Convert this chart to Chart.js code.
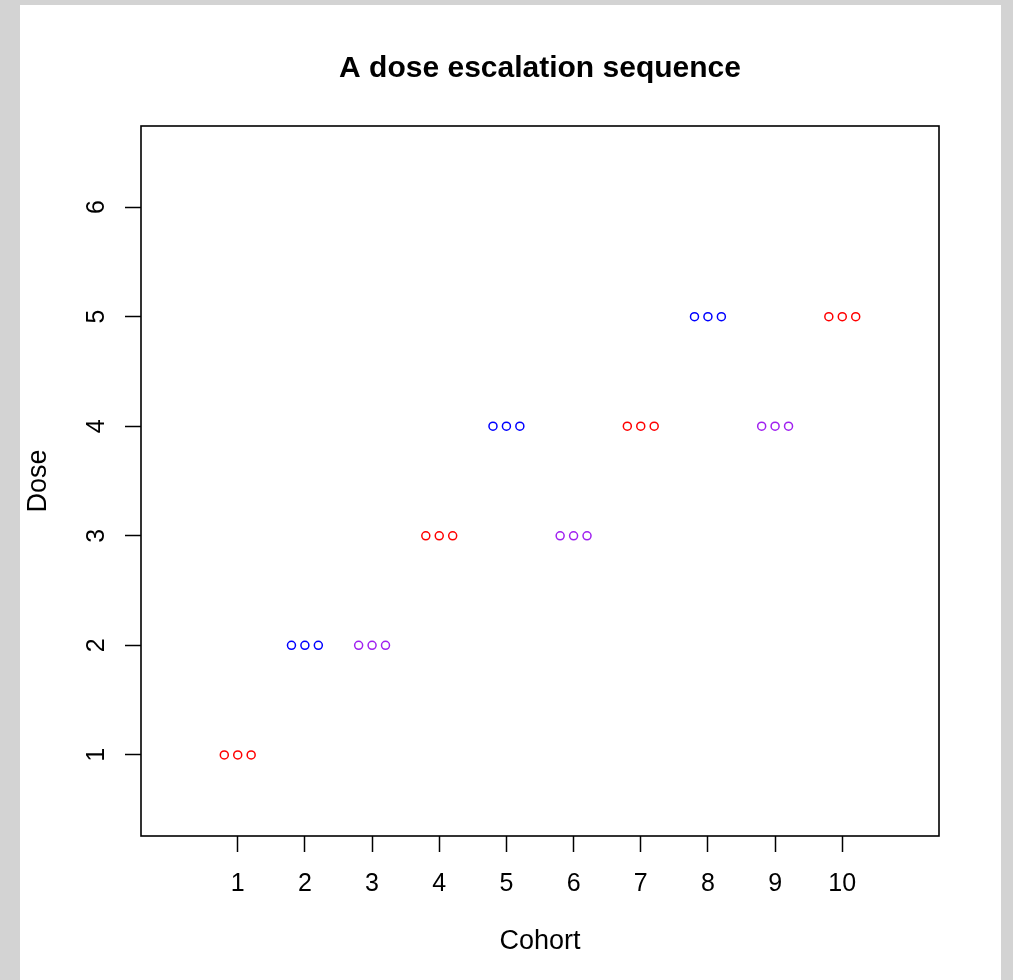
<!DOCTYPE html>
<html>
<head>
<meta charset="utf-8">
<title>A dose escalation sequence</title>
<script src="https://cdn.jsdelivr.net/npm/chart.js@4/dist/chart.umd.min.js"></script>
<style>
    html, body {
        margin: 0;
        padding: 0;
        background: #d3d3d3;
    }
    #wrap {
        position: absolute;
        left: 20px;
        top: 5px;
        width: 981px;
        height: 975px;
        background: #ffffff;
    }
</style>
</head>
<body>
<div id="wrap">
    <canvas id="doseChart" width="981" height="975"></canvas>
</div>
<script>
    // Data
    var cohorts = [1, 2, 3, 4, 5, 6, 7, 8, 9, 10];
    var cohortDose = [1, 2, 2, 3, 4, 3, 4, 5, 4, 5];
    var patientOffsets = [-0.2, 0, 0.2]; // three patients per cohort
    var xTicks = [1, 2, 3, 4, 5, 6, 7, 8, 9, 10];
    var yTicks = [1, 2, 3, 4, 5, 6];
    var xLimits = [-0.44, 11.44];
    var yLimits = [0.26, 6.74];

    var cohortColors = ['#FF0000', '#0000FF', '#A020F0'];
    var fontFamily = '"Liberation Sans", Arial, Helvetica, sans-serif';

    var points = [];
    var pointColors = [];
    for (var i = 0; i < cohorts.length; i++) {
        for (var j = 0; j < patientOffsets.length; j++) {
            points.push({ x: cohorts[i] + patientOffsets[j], y: cohortDose[i] });
            pointColors.push(cohortColors[i % cohortColors.length]);
        }
    }

    function setTicks(values) {
        return function (scale) {
            scale.ticks = values.map(function (v) { return { value: v }; });
        };
    }

    // box round the plot region, like R's box()
    var plotBox = {
        id: 'plotBox',
        afterLayout: function (chart) {
            // centre the title over the plot region, not the whole canvas
            if (chart.titleBlock) {
                chart.titleBlock.left = chart.chartArea.left;
                chart.titleBlock.right = chart.chartArea.right;
                chart.titleBlock.width = chart.chartArea.right - chart.chartArea.left;
            }
        },
        afterDatasetsDraw: function (chart) {
            var a = chart.chartArea;
            var ctx = chart.ctx;
            ctx.save();
            ctx.strokeStyle = '#000';
            ctx.lineWidth = 1.6;
            ctx.strokeRect(a.left, a.top, a.right - a.left, a.bottom - a.top);
            ctx.restore();
        }
    };

    var ctx = document.getElementById('doseChart');
    var doseChart = new Chart(ctx, {
        type: 'scatter',
        data: {
            datasets: [{
                label: 'Dose',
                data: points,
                pointStyle: 'circle',
                pointRadius: 4,
                pointHoverRadius: 4,
                pointBorderWidth: 1.5,
                pointBorderColor: pointColors,
                pointBackgroundColor: 'rgba(0,0,0,0)'
            }]
        },
        options: {
            responsive: false,
            animation: false,
            layout: {
                padding: { left: 0, right: 62, top: 0, bottom: 0 }
            },
            plugins: {
                legend: { display: false },
                tooltip: { enabled: false },
                title: {
                    display: true,
                    text: 'A dose escalation sequence',
                    color: '#000',
                    font: { family: fontFamily, size: 30, weight: 'bold' },
                    padding: { top: 46, bottom: 39 }
                }
            },
            scales: {
                x: {
                    type: 'linear',
                    min: xLimits[0],
                    max: xLimits[1],
                    afterBuildTicks: setTicks(xTicks),
                    afterFit: function (scale) { scale.height = 144; },
                    border: { display: false },
                    grid: {
                        drawOnChartArea: false,
                        tickLength: 16,
                        tickColor: '#000',
                        tickWidth: 1.5
                    },
                    ticks: {
                        color: '#000',
                        padding: 17,
                        font: { family: fontFamily, size: 25 },
                        maxRotation: 0,
                        autoSkip: false
                    },
                    title: {
                        display: true,
                        text: 'Cohort',
                        color: '#000',
                        font: { family: fontFamily, size: 27 },
                        padding: { top: 0, bottom: 22 }
                    }
                },
                y: {
                    type: 'linear',
                    min: yLimits[0],
                    max: yLimits[1],
                    afterBuildTicks: setTicks(yTicks),
                    afterFit: function (scale) { scale.width = 121; },
                    border: { display: false },
                    grid: {
                        drawOnChartArea: false,
                        tickLength: 16,
                        tickColor: '#000',
                        tickWidth: 1.5
                    },
                    ticks: {
                        color: '#000',
                        padding: 21,
                        minRotation: 90,
                        maxRotation: 90,
                        crossAlign: 'center',
                        font: { family: fontFamily, size: 25 },
                        autoSkip: false
                    },
                    title: {
                        display: true,
                        text: 'Dose',
                        color: '#000',
                        font: { family: fontFamily, size: 27 },
                        padding: { top: 2, bottom: 0 }
                    }
                }
            }
        },
        plugins: [plotBox]
    });
</script>
</body>
</html>
